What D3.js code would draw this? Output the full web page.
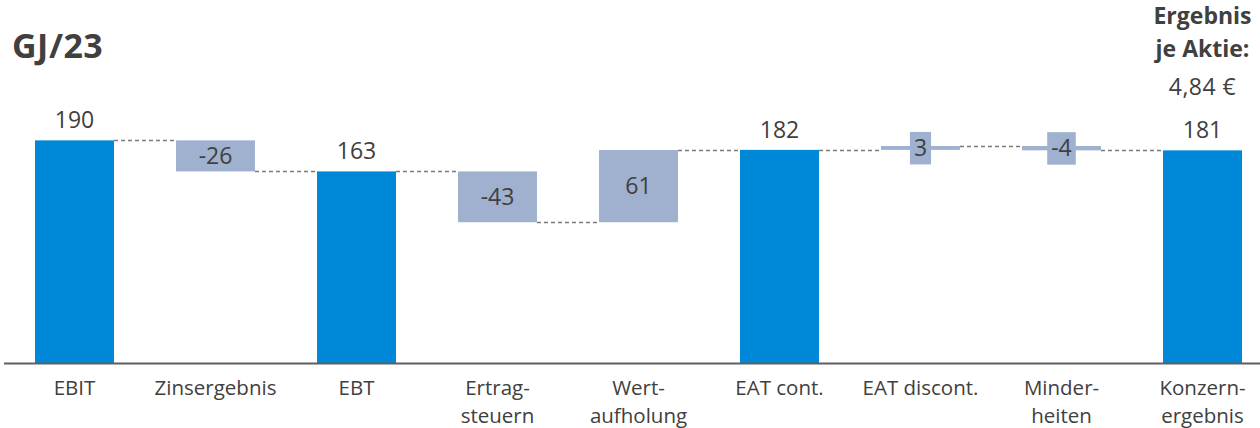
<!DOCTYPE html>
<html>
<head>
<meta charset="utf-8">
<script src="https://cdn.jsdelivr.net/npm/d3@7"></script>
<style>
  html, body { margin: 0; padding: 0; background: #fff; }
  svg { display: block; }
  text { font-family: "Open Sans", sans-serif; fill: #404040; }
</style>
</head>
<body>
<svg id="chart" width="1260" height="428"></svg>
<script>
// ---- data ----
const categories = [
  ["EBIT"], ["Zinsergebnis"], ["EBT"], ["Ertrag-", "steuern"], ["Wert-", "aufholung"],
  ["EAT cont."], ["EAT discont."], ["Minder-", "heiten"], ["Konzern-", "ergebnis"]
];
const values = [189.7, -26.4, 163.3, -43.2, 61.4, 181.6, 3.3, -3.7, 181.2];
const kinds = ["total", "delta", "total", "delta", "delta", "total", "delta", "delta", "total"];
const title = "GJ/23";
const epsLines = ["Ergebnis", "je Aktie:"];
const epsValue = "4,84 €";

// ---- layout ----
const svg = d3.select("#chart");
const baseY = 363.5;
const x = d3.scaleBand().domain(d3.range(categories.length)).range([4, 1273]).paddingInner(0.44).paddingOuter(0.22);
const y = d3.scaleLinear().domain([0, 190]).range([baseY, 140]);

const totalColor = "#0088D8";
const deltaColor = "#9FB1CF";

// compute segments
let running = 0;
const segs = values.map((v, i) => {
  let y0, y1;
  if (kinds[i] === "total") { y0 = 0; y1 = v; running = v; }
  else { y0 = running; y1 = running + v; running = y1; }
  return { i, v, y0, y1, kind: kinds[i], end: running };
});

// connectors
const gConn = svg.append("g");
segs.slice(0, -1).forEach((s, k) => {
  const nx = segs[k + 1];
  gConn.append("line")
    .attr("x1", x(s.i) + x.bandwidth()).attr("x2", x(nx.i))
    .attr("y1", Math.round(y(s.end)) + 0.5).attr("y2", Math.round(y(s.end)) + 0.5)
    .attr("stroke", "#7a7a7a").attr("stroke-width", 1.5)
    .attr("stroke-dasharray", "4,3");
});

// bars
svg.append("g").selectAll("rect").data(segs).join("rect")
  .attr("x", d => x(d.i))
  .attr("width", x.bandwidth())
  .attr("y", d => y(Math.max(d.y0, d.y1)))
  .attr("height", d => Math.max(3.5, Math.abs(y(d.y0) - y(d.y1))))
  .attr("fill", d => d.kind === "total" ? totalColor : deltaColor);

// labels
const fmt = v => String(Math.round(v));
const gLab = svg.append("g");
segs.forEach(d => {
  const cx = x(d.i) + x.bandwidth() / 2;
  if (d.kind === "total") {
    gLab.append("text").attr("x", cx).attr("y", y(d.y1) - 12)
      .attr("text-anchor", "middle").attr("font-size", 23).text(fmt(d.v));
  } else {
    const cy = (y(d.y0) + y(d.y1)) / 2;
    const h = Math.abs(y(d.y0) - y(d.y1));
    const t = gLab.append("text").attr("x", cx).attr("y", cy)
      .attr("dy", "0.36em").attr("text-anchor", "middle").attr("font-size", 23).text(fmt(d.v));
    if (h < 30) {
      const bb = t.node().getBBox();
      gLab.insert("rect", "text")
        .attr("x", bb.x - 4).attr("width", bb.width + 8)
        .attr("y", cy - 16).attr("height", 32.5)
        .attr("fill", deltaColor);
    }
  }
});

// axis line
svg.append("line").attr("x1", 4).attr("x2", 1260).attr("y1", baseY).attr("y2", baseY)
  .attr("stroke", "#5f5f5f").attr("stroke-width", 2.2);

// category labels
const gCat = svg.append("g");
categories.forEach((lines, i) => {
  const t = gCat.append("text").attr("x", x(i) + x.bandwidth() / 2).attr("y", 395)
    .attr("text-anchor", "middle").attr("font-size", 20.5);
  lines.forEach((l, j) => t.append("tspan").attr("x", x(i) + x.bandwidth() / 2).attr("dy", j ? 27.5 : 0).text(l));
});

// title
svg.append("text").attr("x", 12).attr("y", 58).attr("font-size", 34).attr("font-weight", 700)
  .attr("letter-spacing", 0.5).text(title);

// EPS annotation
const ecx = x(8) + x.bandwidth() / 2;
epsLines.forEach((l, j) => {
  svg.append("text").attr("x", ecx).attr("y", 24 + j * 33).attr("text-anchor", "middle")
    .attr("font-size", 23).attr("font-weight", 700).text(l);
});
svg.append("text").attr("x", ecx).attr("y", 95).attr("text-anchor", "middle")
  .attr("font-size", 23).attr("letter-spacing", 0.5).text(epsValue);
</script>
</body>
</html>
